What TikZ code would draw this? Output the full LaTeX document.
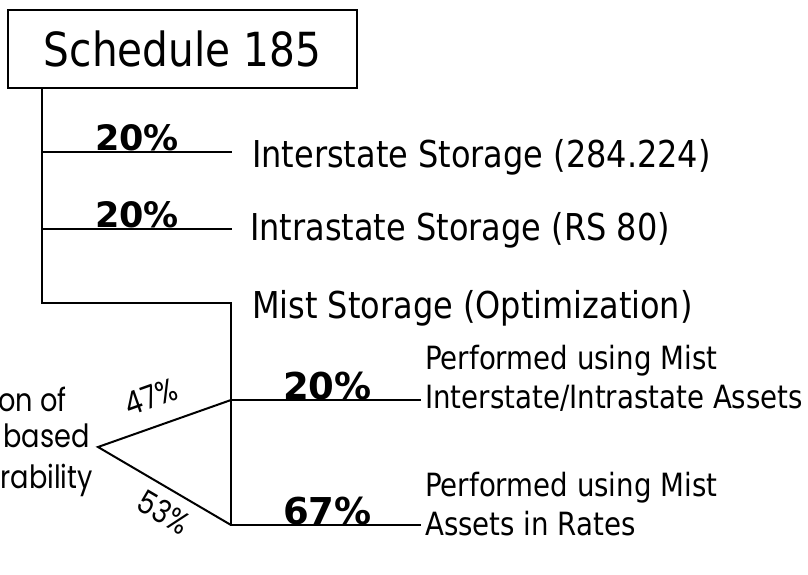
\documentclass[tikz,border=0pt]{standalone}
\usepackage{fontspec}
\setmainfont{DejaVu Sans}[FakeStretch=0.864]
\newfontfamily\pctfont{DejaVu Sans Bold}
\newfontfamily\handfont{Poppins}[FakeStretch=0.85]
\begin{document}
\begin{tikzpicture}[x=1pt,y=-1pt,
  wire/.style={line width=2pt,line cap=rect},
  title/.style={draw,line width=1.3pt,inner sep=0,minimum width=349pt,minimum height=78pt,font=\fontsize{47}{54}\selectfont},
  item/.style={anchor=base west,inner sep=0,font=\fontsize{37}{44}\selectfont},
  sub/.style={anchor=base west,inner sep=0,align=left,font=\fontsize{32}{38.5}\selectfont},
  pct/.style={anchor=base west,inner sep=0,font=\fontsize{35}{40}\pctfont},
  bigpct/.style={anchor=base west,inner sep=0,font=\fontsize{37}{42}\pctfont},
  hand/.style={inner sep=0,font=\fontsize{32}{38}\handfont},
]
\useasboundingbox (0,0) rectangle (808,574);

% title box
\node[title] (box) at (182.5,49) {Schedule 185};

% trunk and branch points
\coordinate (top) at (42,88);
\coordinate (b1) at (42,152);
\coordinate (b2) at (42,229);
\coordinate (b3) at (42,303);
\coordinate (m0) at (231,303);
\coordinate (m1) at (231,400);
\coordinate (m2) at (231,525);
\coordinate (e1) at (231,152);
\coordinate (e2) at (231,229);
\coordinate (f1) at (420,400);
\coordinate (f2) at (420,525);
\coordinate (apex) at (98,447);

\draw[wire] (top) -- (b3) -- (m0) -- (m2);
\draw[wire] (b1) -- (e1);
\draw[wire] (b2) -- (e2);
\draw[wire] (m1) -- (f1);
\draw[wire] (m2) -- (f2);
\draw[wire,line cap=round] (m1) -- (apex) -- (m2);

% percentages on the branches
\node[pct] (p1) at (95,150) {20\%};
\node[pct] (p2) at (95,227) {20\%};
\node[bigpct] (p3) at (283,399) {20\%};
\node[bigpct] (p4) at (283,524) {67\%};

% branch labels
\node[item] (l1) at (252,167) {Interstate Storage (284.224)};
\node[item] (l2) at (250,240) {Intrastate Storage (RS 80)};
\node[item] (l3) at (252,318) {Mist Storage (Optimization)};
\node[sub] (l4) at (425,408) {Performed using Mist\\Interstate/Intrastate Assets};
\node[sub] (l5) at (425,535) {Performed using Mist\\Assets in Rates};

% handwritten split
\node[hand,rotate=19.5] (h1) at (151,397) {47\%};
\node[hand,rotate=-30.5] (h2) at (164,512) {53\%};
\node[hand,anchor=base east] (n1) at (67,411) {on of};
\node[hand,anchor=base east] (n2) at (90,447) {based};
\node[hand,anchor=base east] (n3) at (93,488) {rability};
\end{tikzpicture}
\end{document}
